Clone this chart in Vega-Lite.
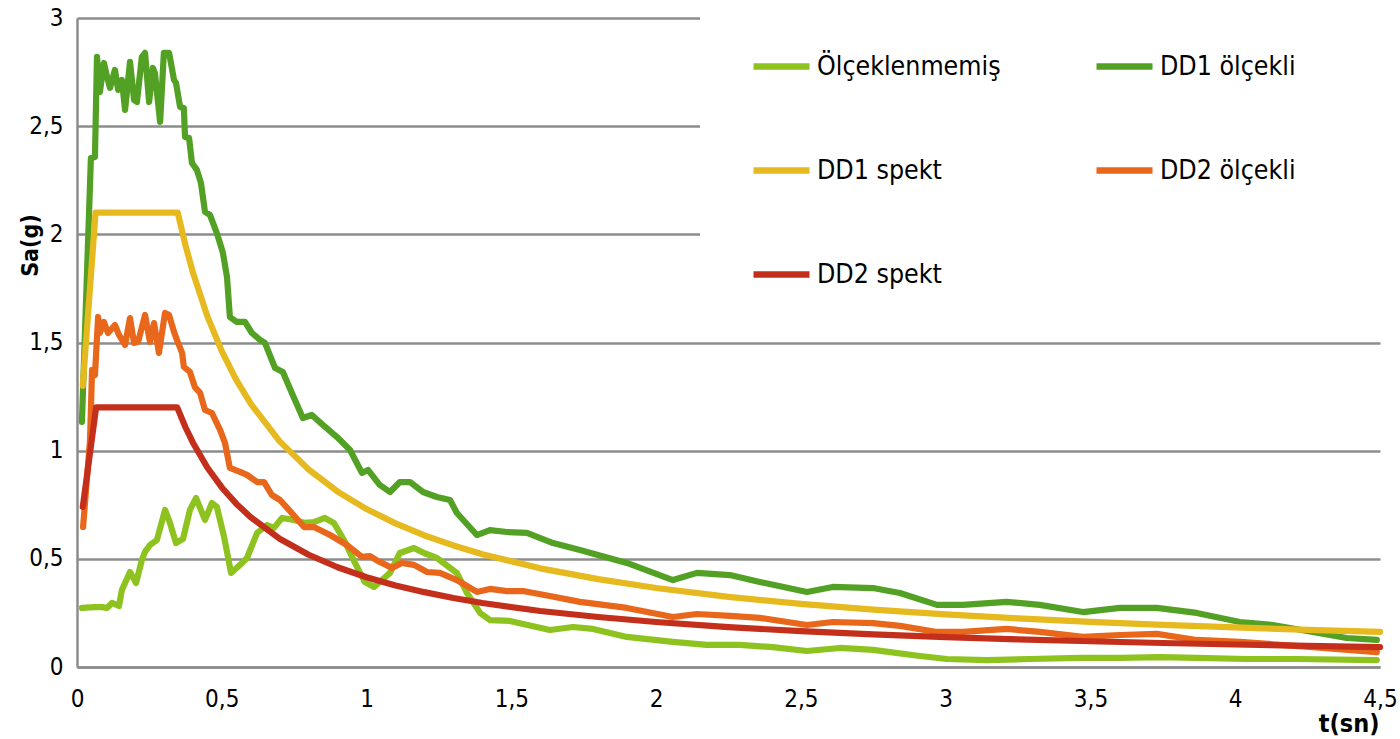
{
  "$schema": "https://vega.github.io/schema/vega-lite/v6.json",
  "autosize": {"type": "none"},
  "padding": {"left": 77, "top": 18, "right": 20, "bottom": 72},
  "width": 1303,
  "height": 649,
  "background": "white",
  "config": {
    "view": {"stroke": null},
    "font": "DejaVu Sans Condensed, DejaVu Sans, sans-serif"
  },
  "datasets": {
    "main": [
      {"s": "Ölçeklenmemiş", "t": 0.017, "sa": 0.273},
      {"s": "Ölçeklenmemiş", "t": 0.059, "sa": 0.277},
      {"s": "Ölçeklenmemiş", "t": 0.086, "sa": 0.277},
      {"s": "Ölçeklenmemiş", "t": 0.104, "sa": 0.273},
      {"s": "Ölçeklenmemiş", "t": 0.121, "sa": 0.296},
      {"s": "Ölçeklenmemiş", "t": 0.145, "sa": 0.282},
      {"s": "Ölçeklenmemiş", "t": 0.155, "sa": 0.356},
      {"s": "Ölçeklenmemiş", "t": 0.183, "sa": 0.439},
      {"s": "Ölçeklenmemiş", "t": 0.204, "sa": 0.388},
      {"s": "Ölçeklenmemiş", "t": 0.224, "sa": 0.495},
      {"s": "Ölçeklenmemiş", "t": 0.235, "sa": 0.532},
      {"s": "Ölçeklenmemiş", "t": 0.252, "sa": 0.564},
      {"s": "Ölçeklenmemiş", "t": 0.276, "sa": 0.587},
      {"s": "Ölçeklenmemiş", "t": 0.304, "sa": 0.726},
      {"s": "Ölçeklenmemiş", "t": 0.321, "sa": 0.666},
      {"s": "Ölçeklenmemiş", "t": 0.342, "sa": 0.573},
      {"s": "Ölçeklenmemiş", "t": 0.366, "sa": 0.592},
      {"s": "Ölçeklenmemiş", "t": 0.390, "sa": 0.726},
      {"s": "Ölçeklenmemiş", "t": 0.411, "sa": 0.781},
      {"s": "Ölçeklenmemiş", "t": 0.442, "sa": 0.680},
      {"s": "Ölçeklenmemiş", "t": 0.466, "sa": 0.758},
      {"s": "Ölçeklenmemiş", "t": 0.483, "sa": 0.740},
      {"s": "Ölçeklenmemiş", "t": 0.508, "sa": 0.601},
      {"s": "Ölçeklenmemiş", "t": 0.532, "sa": 0.435},
      {"s": "Ölçeklenmemiş", "t": 0.563, "sa": 0.472},
      {"s": "Ölçeklenmemiş", "t": 0.587, "sa": 0.504},
      {"s": "Ölçeklenmemiş", "t": 0.622, "sa": 0.620},
      {"s": "Ölçeklenmemiş", "t": 0.656, "sa": 0.656},
      {"s": "Ölçeklenmemiş", "t": 0.680, "sa": 0.643},
      {"s": "Ölçeklenmemiş", "t": 0.708, "sa": 0.689},
      {"s": "Ölçeklenmemiş", "t": 0.749, "sa": 0.680},
      {"s": "Ölçeklenmemiş", "t": 0.787, "sa": 0.666},
      {"s": "Ölçeklenmemiş", "t": 0.818, "sa": 0.670},
      {"s": "Ölçeklenmemiş", "t": 0.856, "sa": 0.689},
      {"s": "Ölçeklenmemiş", "t": 0.887, "sa": 0.666},
      {"s": "Ölçeklenmemiş", "t": 0.922, "sa": 0.587},
      {"s": "Ölçeklenmemiş", "t": 0.960, "sa": 0.481},
      {"s": "Ölçeklenmemiş", "t": 0.994, "sa": 0.393},
      {"s": "Ölçeklenmemiş", "t": 1.026, "sa": 0.370},
      {"s": "Ölçeklenmemiş", "t": 1.053, "sa": 0.402},
      {"s": "Ölçeklenmemiş", "t": 1.081, "sa": 0.435},
      {"s": "Ölçeklenmemiş", "t": 1.115, "sa": 0.527},
      {"s": "Ölçeklenmemiş", "t": 1.164, "sa": 0.550},
      {"s": "Ölçeklenmemiş", "t": 1.198, "sa": 0.527},
      {"s": "Ölçeklenmemiş", "t": 1.243, "sa": 0.504},
      {"s": "Ölçeklenmemiş", "t": 1.312, "sa": 0.435},
      {"s": "Ölçeklenmemiş", "t": 1.347, "sa": 0.342},
      {"s": "Ölçeklenmemiş", "t": 1.392, "sa": 0.250},
      {"s": "Ölçeklenmemiş", "t": 1.426, "sa": 0.217},
      {"s": "Ölçeklenmemiş", "t": 1.495, "sa": 0.213},
      {"s": "Ölçeklenmemiş", "t": 1.633, "sa": 0.171},
      {"s": "Ölçeklenmemiş", "t": 1.713, "sa": 0.185},
      {"s": "Ölçeklenmemiş", "t": 1.782, "sa": 0.176},
      {"s": "Ölçeklenmemiş", "t": 1.899, "sa": 0.139},
      {"s": "Ölçeklenmemiş", "t": 2.058, "sa": 0.116},
      {"s": "Ölçeklenmemiş", "t": 2.175, "sa": 0.102},
      {"s": "Ölçeklenmemiş", "t": 2.289, "sa": 0.102},
      {"s": "Ölçeklenmemiş", "t": 2.403, "sa": 0.092},
      {"s": "Ölçeklenmemiş", "t": 2.521, "sa": 0.074},
      {"s": "Ölçeklenmemiş", "t": 2.635, "sa": 0.088},
      {"s": "Ölçeklenmemiş", "t": 2.749, "sa": 0.079},
      {"s": "Ölçeklenmemiş", "t": 2.911, "sa": 0.051},
      {"s": "Ölçeklenmemiş", "t": 3.004, "sa": 0.037},
      {"s": "Ölçeklenmemiş", "t": 3.142, "sa": 0.032},
      {"s": "Ölçeklenmemiş", "t": 3.291, "sa": 0.037},
      {"s": "Ölçeklenmemiş", "t": 3.463, "sa": 0.042},
      {"s": "Ölçeklenmemiş", "t": 3.602, "sa": 0.042},
      {"s": "Ölçeklenmemiş", "t": 3.740, "sa": 0.046},
      {"s": "Ölçeklenmemiş", "t": 3.867, "sa": 0.042},
      {"s": "Ölçeklenmemiş", "t": 4.040, "sa": 0.037},
      {"s": "Ölçeklenmemiş", "t": 4.213, "sa": 0.037},
      {"s": "Ölçeklenmemiş", "t": 4.489, "sa": 0.032},

      {"s": "DD1 ölçekli", "t": 0.017, "sa": 1.133},
      {"s": "DD1 ölçekli", "t": 0.048, "sa": 2.353},
      {"s": "DD1 ölçekli", "t": 0.062, "sa": 2.358},
      {"s": "DD1 ölçekli", "t": 0.069, "sa": 2.820},
      {"s": "DD1 ölçekli", "t": 0.079, "sa": 2.658},
      {"s": "DD1 ölçekli", "t": 0.093, "sa": 2.792},
      {"s": "DD1 ölçekli", "t": 0.104, "sa": 2.728},
      {"s": "DD1 ölçekli", "t": 0.114, "sa": 2.677},
      {"s": "DD1 ölçekli", "t": 0.131, "sa": 2.760},
      {"s": "DD1 ölçekli", "t": 0.142, "sa": 2.668},
      {"s": "DD1 ölçekli", "t": 0.155, "sa": 2.714},
      {"s": "DD1 ölçekli", "t": 0.166, "sa": 2.575},
      {"s": "DD1 ölçekli", "t": 0.183, "sa": 2.797},
      {"s": "DD1 ölçekli", "t": 0.197, "sa": 2.621},
      {"s": "DD1 ölçekli", "t": 0.207, "sa": 2.612},
      {"s": "DD1 ölçekli", "t": 0.224, "sa": 2.820},
      {"s": "DD1 ölçekli", "t": 0.235, "sa": 2.839},
      {"s": "DD1 ölçekli", "t": 0.249, "sa": 2.612},
      {"s": "DD1 ölçekli", "t": 0.262, "sa": 2.769},
      {"s": "DD1 ölçekli", "t": 0.269, "sa": 2.746},
      {"s": "DD1 ölçekli", "t": 0.287, "sa": 2.520},
      {"s": "DD1 ölçekli", "t": 0.300, "sa": 2.839},
      {"s": "DD1 ölçekli", "t": 0.318, "sa": 2.839},
      {"s": "DD1 ölçekli", "t": 0.335, "sa": 2.714},
      {"s": "DD1 ölçekli", "t": 0.342, "sa": 2.700},
      {"s": "DD1 ölçekli", "t": 0.356, "sa": 2.589},
      {"s": "DD1 ölçekli", "t": 0.369, "sa": 2.584},
      {"s": "DD1 ölçekli", "t": 0.373, "sa": 2.450},
      {"s": "DD1 ölçekli", "t": 0.387, "sa": 2.446},
      {"s": "DD1 ölçekli", "t": 0.397, "sa": 2.330},
      {"s": "DD1 ölçekli", "t": 0.414, "sa": 2.298},
      {"s": "DD1 ölçekli", "t": 0.428, "sa": 2.238},
      {"s": "DD1 ölçekli", "t": 0.442, "sa": 2.104},
      {"s": "DD1 ölçekli", "t": 0.459, "sa": 2.090},
      {"s": "DD1 ölçekli", "t": 0.483, "sa": 2.006},
      {"s": "DD1 ölçekli", "t": 0.504, "sa": 1.914},
      {"s": "DD1 ölçekli", "t": 0.518, "sa": 1.803},
      {"s": "DD1 ölçekli", "t": 0.528, "sa": 1.618},
      {"s": "DD1 ölçekli", "t": 0.552, "sa": 1.595},
      {"s": "DD1 ölçekli", "t": 0.580, "sa": 1.595},
      {"s": "DD1 ölçekli", "t": 0.604, "sa": 1.544},
      {"s": "DD1 ölçekli", "t": 0.632, "sa": 1.512},
      {"s": "DD1 ölçekli", "t": 0.649, "sa": 1.498},
      {"s": "DD1 ölçekli", "t": 0.684, "sa": 1.382},
      {"s": "DD1 ölçekli", "t": 0.711, "sa": 1.364},
      {"s": "DD1 ölçekli", "t": 0.742, "sa": 1.267},
      {"s": "DD1 ölçekli", "t": 0.780, "sa": 1.151},
      {"s": "DD1 ölçekli", "t": 0.811, "sa": 1.165},
      {"s": "DD1 ölçekli", "t": 0.849, "sa": 1.119},
      {"s": "DD1 ölçekli", "t": 0.898, "sa": 1.063},
      {"s": "DD1 ölçekli", "t": 0.943, "sa": 1.003},
      {"s": "DD1 ölçekli", "t": 0.984, "sa": 0.897},
      {"s": "DD1 ölçekli", "t": 1.005, "sa": 0.911},
      {"s": "DD1 ölçekli", "t": 1.046, "sa": 0.841},
      {"s": "DD1 ölçekli", "t": 1.081, "sa": 0.809},
      {"s": "DD1 ölçekli", "t": 1.115, "sa": 0.855},
      {"s": "DD1 ölçekli", "t": 1.150, "sa": 0.855},
      {"s": "DD1 ölçekli", "t": 1.195, "sa": 0.809},
      {"s": "DD1 ölçekli", "t": 1.243, "sa": 0.786},
      {"s": "DD1 ölçekli", "t": 1.288, "sa": 0.772},
      {"s": "DD1 ölçekli", "t": 1.312, "sa": 0.712},
      {"s": "DD1 ölçekli", "t": 1.381, "sa": 0.610},
      {"s": "DD1 ölçekli", "t": 1.426, "sa": 0.633},
      {"s": "DD1 ölçekli", "t": 1.485, "sa": 0.624},
      {"s": "DD1 ölçekli", "t": 1.554, "sa": 0.620},
      {"s": "DD1 ölçekli", "t": 1.644, "sa": 0.573},
      {"s": "DD1 ölçekli", "t": 1.737, "sa": 0.541},
      {"s": "DD1 ölçekli", "t": 1.899, "sa": 0.481},
      {"s": "DD1 ölçekli", "t": 2.058, "sa": 0.402},
      {"s": "DD1 ölçekli", "t": 2.141, "sa": 0.435},
      {"s": "DD1 ölçekli", "t": 2.255, "sa": 0.425},
      {"s": "DD1 ölçekli", "t": 2.358, "sa": 0.393},
      {"s": "DD1 ölçekli", "t": 2.521, "sa": 0.347},
      {"s": "DD1 ölçekli", "t": 2.610, "sa": 0.370},
      {"s": "DD1 ölçekli", "t": 2.749, "sa": 0.365},
      {"s": "DD1 ölçekli", "t": 2.842, "sa": 0.342},
      {"s": "DD1 ölçekli", "t": 2.970, "sa": 0.287},
      {"s": "DD1 ölçekli", "t": 3.059, "sa": 0.287},
      {"s": "DD1 ölçekli", "t": 3.211, "sa": 0.301},
      {"s": "DD1 ölçekli", "t": 3.325, "sa": 0.287},
      {"s": "DD1 ölçekli", "t": 3.474, "sa": 0.254},
      {"s": "DD1 ölçekli", "t": 3.602, "sa": 0.273},
      {"s": "DD1 ölçekli", "t": 3.729, "sa": 0.273},
      {"s": "DD1 ölçekli", "t": 3.867, "sa": 0.250},
      {"s": "DD1 ölçekli", "t": 4.016, "sa": 0.208},
      {"s": "DD1 ölçekli", "t": 4.130, "sa": 0.194},
      {"s": "DD1 ölçekli", "t": 4.268, "sa": 0.162},
      {"s": "DD1 ölçekli", "t": 4.385, "sa": 0.134},
      {"s": "DD1 ölçekli", "t": 4.489, "sa": 0.125},

      {"s": "DD1 spekt", "t": 0.02, "sa": 1.30},
      {"s": "DD1 spekt", "t": 0.064, "sa": 2.10},
      {"s": "DD1 spekt", "t": 0.348, "sa": 2.10},
      {"s": "DD1 spekt", "t": 0.375, "sa": 1.947},
      {"s": "DD1 spekt", "t": 0.40, "sa": 1.825},
      {"s": "DD1 spekt", "t": 0.45, "sa": 1.622},
      {"s": "DD1 spekt", "t": 0.50, "sa": 1.460},
      {"s": "DD1 spekt", "t": 0.55, "sa": 1.327},
      {"s": "DD1 spekt", "t": 0.60, "sa": 1.217},
      {"s": "DD1 spekt", "t": 0.70, "sa": 1.043},
      {"s": "DD1 spekt", "t": 0.80, "sa": 0.913},
      {"s": "DD1 spekt", "t": 0.90, "sa": 0.811},
      {"s": "DD1 spekt", "t": 1.00, "sa": 0.730},
      {"s": "DD1 spekt", "t": 1.10, "sa": 0.664},
      {"s": "DD1 spekt", "t": 1.20, "sa": 0.608},
      {"s": "DD1 spekt", "t": 1.30, "sa": 0.562},
      {"s": "DD1 spekt", "t": 1.40, "sa": 0.521},
      {"s": "DD1 spekt", "t": 1.60, "sa": 0.456},
      {"s": "DD1 spekt", "t": 1.80, "sa": 0.406},
      {"s": "DD1 spekt", "t": 2.00, "sa": 0.365},
      {"s": "DD1 spekt", "t": 2.25, "sa": 0.324},
      {"s": "DD1 spekt", "t": 2.50, "sa": 0.292},
      {"s": "DD1 spekt", "t": 2.75, "sa": 0.265},
      {"s": "DD1 spekt", "t": 3.00, "sa": 0.243},
      {"s": "DD1 spekt", "t": 3.25, "sa": 0.225},
      {"s": "DD1 spekt", "t": 3.50, "sa": 0.209},
      {"s": "DD1 spekt", "t": 3.75, "sa": 0.195},
      {"s": "DD1 spekt", "t": 4.00, "sa": 0.183},
      {"s": "DD1 spekt", "t": 4.25, "sa": 0.172},
      {"s": "DD1 spekt", "t": 4.50, "sa": 0.162},

      {"s": "DD2 ölçekli", "t": 0.021, "sa": 0.647},
      {"s": "DD2 ölçekli", "t": 0.045, "sa": 1.049},
      {"s": "DD2 ölçekli", "t": 0.052, "sa": 1.373},
      {"s": "DD2 ölçekli", "t": 0.062, "sa": 1.350},
      {"s": "DD2 ölçekli", "t": 0.073, "sa": 1.618},
      {"s": "DD2 ölçekli", "t": 0.079, "sa": 1.544},
      {"s": "DD2 ölçekli", "t": 0.093, "sa": 1.595},
      {"s": "DD2 ölçekli", "t": 0.107, "sa": 1.544},
      {"s": "DD2 ölçekli", "t": 0.131, "sa": 1.581},
      {"s": "DD2 ölçekli", "t": 0.145, "sa": 1.535},
      {"s": "DD2 ölçekli", "t": 0.166, "sa": 1.489},
      {"s": "DD2 ölçekli", "t": 0.183, "sa": 1.613},
      {"s": "DD2 ölçekli", "t": 0.197, "sa": 1.498},
      {"s": "DD2 ölçekli", "t": 0.211, "sa": 1.503},
      {"s": "DD2 ölçekli", "t": 0.235, "sa": 1.627},
      {"s": "DD2 ölçekli", "t": 0.252, "sa": 1.503},
      {"s": "DD2 ölçekli", "t": 0.266, "sa": 1.590},
      {"s": "DD2 ölçekli", "t": 0.283, "sa": 1.452},
      {"s": "DD2 ölçekli", "t": 0.304, "sa": 1.637},
      {"s": "DD2 ölçekli", "t": 0.318, "sa": 1.627},
      {"s": "DD2 ölçekli", "t": 0.335, "sa": 1.549},
      {"s": "DD2 ölçekli", "t": 0.345, "sa": 1.512},
      {"s": "DD2 ölçekli", "t": 0.363, "sa": 1.452},
      {"s": "DD2 ölçekli", "t": 0.369, "sa": 1.387},
      {"s": "DD2 ölçekli", "t": 0.390, "sa": 1.364},
      {"s": "DD2 ölçekli", "t": 0.407, "sa": 1.294},
      {"s": "DD2 ölçekli", "t": 0.425, "sa": 1.267},
      {"s": "DD2 ölçekli", "t": 0.442, "sa": 1.188},
      {"s": "DD2 ölçekli", "t": 0.466, "sa": 1.174},
      {"s": "DD2 ölçekli", "t": 0.494, "sa": 1.096},
      {"s": "DD2 ölçekli", "t": 0.511, "sa": 1.036},
      {"s": "DD2 ölçekli", "t": 0.528, "sa": 0.920},
      {"s": "DD2 ölçekli", "t": 0.563, "sa": 0.902},
      {"s": "DD2 ölçekli", "t": 0.587, "sa": 0.888},
      {"s": "DD2 ölçekli", "t": 0.622, "sa": 0.855},
      {"s": "DD2 ölçekli", "t": 0.646, "sa": 0.855},
      {"s": "DD2 ölçekli", "t": 0.673, "sa": 0.795},
      {"s": "DD2 ölçekli", "t": 0.701, "sa": 0.772},
      {"s": "DD2 ölçekli", "t": 0.732, "sa": 0.726},
      {"s": "DD2 ölçekli", "t": 0.784, "sa": 0.647},
      {"s": "DD2 ölçekli", "t": 0.818, "sa": 0.647},
      {"s": "DD2 ölçekli", "t": 0.874, "sa": 0.610},
      {"s": "DD2 ölçekli", "t": 0.932, "sa": 0.564},
      {"s": "DD2 ölçekli", "t": 0.984, "sa": 0.509},
      {"s": "DD2 ölçekli", "t": 1.012, "sa": 0.513},
      {"s": "DD2 ölçekli", "t": 1.046, "sa": 0.485},
      {"s": "DD2 ölçekli", "t": 1.088, "sa": 0.458},
      {"s": "DD2 ölçekli", "t": 1.122, "sa": 0.481},
      {"s": "DD2 ölçekli", "t": 1.164, "sa": 0.472},
      {"s": "DD2 ölçekli", "t": 1.209, "sa": 0.439},
      {"s": "DD2 ölçekli", "t": 1.253, "sa": 0.435},
      {"s": "DD2 ölçekli", "t": 1.312, "sa": 0.402},
      {"s": "DD2 ölçekli", "t": 1.381, "sa": 0.347},
      {"s": "DD2 ölçekli", "t": 1.426, "sa": 0.361},
      {"s": "DD2 ölçekli", "t": 1.485, "sa": 0.351},
      {"s": "DD2 ölçekli", "t": 1.540, "sa": 0.351},
      {"s": "DD2 ölçekli", "t": 1.633, "sa": 0.328},
      {"s": "DD2 ölçekli", "t": 1.737, "sa": 0.301},
      {"s": "DD2 ölçekli", "t": 1.899, "sa": 0.273},
      {"s": "DD2 ölçekli", "t": 2.058, "sa": 0.231},
      {"s": "DD2 ölçekli", "t": 2.141, "sa": 0.245},
      {"s": "DD2 ölçekli", "t": 2.255, "sa": 0.236},
      {"s": "DD2 ölçekli", "t": 2.358, "sa": 0.227},
      {"s": "DD2 ölçekli", "t": 2.521, "sa": 0.194},
      {"s": "DD2 ölçekli", "t": 2.610, "sa": 0.208},
      {"s": "DD2 ölçekli", "t": 2.749, "sa": 0.203},
      {"s": "DD2 ölçekli", "t": 2.842, "sa": 0.190},
      {"s": "DD2 ölçekli", "t": 2.970, "sa": 0.162},
      {"s": "DD2 ölçekli", "t": 3.059, "sa": 0.162},
      {"s": "DD2 ölçekli", "t": 3.211, "sa": 0.176},
      {"s": "DD2 ölçekli", "t": 3.325, "sa": 0.162},
      {"s": "DD2 ölçekli", "t": 3.474, "sa": 0.139},
      {"s": "DD2 ölçekli", "t": 3.602, "sa": 0.148},
      {"s": "DD2 ölçekli", "t": 3.729, "sa": 0.153},
      {"s": "DD2 ölçekli", "t": 3.867, "sa": 0.125},
      {"s": "DD2 ölçekli", "t": 4.016, "sa": 0.116},
      {"s": "DD2 ölçekli", "t": 4.268, "sa": 0.092},
      {"s": "DD2 ölçekli", "t": 4.489, "sa": 0.069},

      {"s": "DD2 spekt", "t": 0.02, "sa": 0.74},
      {"s": "DD2 spekt", "t": 0.066, "sa": 1.20},
      {"s": "DD2 spekt", "t": 0.346, "sa": 1.20},
      {"s": "DD2 spekt", "t": 0.375, "sa": 1.107},
      {"s": "DD2 spekt", "t": 0.40, "sa": 1.038},
      {"s": "DD2 spekt", "t": 0.45, "sa": 0.922},
      {"s": "DD2 spekt", "t": 0.50, "sa": 0.830},
      {"s": "DD2 spekt", "t": 0.55, "sa": 0.755},
      {"s": "DD2 spekt", "t": 0.60, "sa": 0.692},
      {"s": "DD2 spekt", "t": 0.70, "sa": 0.593},
      {"s": "DD2 spekt", "t": 0.80, "sa": 0.519},
      {"s": "DD2 spekt", "t": 0.90, "sa": 0.461},
      {"s": "DD2 spekt", "t": 1.00, "sa": 0.415},
      {"s": "DD2 spekt", "t": 1.10, "sa": 0.377},
      {"s": "DD2 spekt", "t": 1.20, "sa": 0.346},
      {"s": "DD2 spekt", "t": 1.30, "sa": 0.319},
      {"s": "DD2 spekt", "t": 1.40, "sa": 0.296},
      {"s": "DD2 spekt", "t": 1.60, "sa": 0.259},
      {"s": "DD2 spekt", "t": 1.80, "sa": 0.231},
      {"s": "DD2 spekt", "t": 2.00, "sa": 0.208},
      {"s": "DD2 spekt", "t": 2.25, "sa": 0.184},
      {"s": "DD2 spekt", "t": 2.50, "sa": 0.166},
      {"s": "DD2 spekt", "t": 2.75, "sa": 0.151},
      {"s": "DD2 spekt", "t": 3.00, "sa": 0.138},
      {"s": "DD2 spekt", "t": 3.25, "sa": 0.128},
      {"s": "DD2 spekt", "t": 3.50, "sa": 0.119},
      {"s": "DD2 spekt", "t": 3.75, "sa": 0.111},
      {"s": "DD2 spekt", "t": 4.00, "sa": 0.104},
      {"s": "DD2 spekt", "t": 4.25, "sa": 0.098},
      {"s": "DD2 spekt", "t": 4.50, "sa": 0.092}
    ]
  },
  "data": {"name": "main"},
  "mark": {"type": "line", "strokeWidth": 6.2, "strokeJoin": "round", "strokeCap": "round"},
  "encoding": {
    "x": {
      "field": "t", "type": "quantitative",
      "scale": {"domain": [0, 4.5], "nice": false, "zero": false},
      "axis": {
        "values": [0, 0.5, 1, 1.5, 2, 2.5, 3, 3.5, 4, 4.5],
        "labelExpr": "replace(format(datum.value, '~g'), '.', ',')",
        "grid": false, "ticks": false,
        "domainColor": "#8c8c8c", "domainWidth": 2.5,
        "labelFontSize": 24, "labelColor": "black", "labelPadding": 20,
        "labelFlush": false, "labelOverlap": false,
        "title": "t(sn)", "titleFontSize": 25, "titleFontWeight": "bold", "titleColor": "black",
        "titleAnchor": null, "titleAlign": "right", "titleX": 1302, "titleY": 56, "titleBaseline": "middle"
      }
    },
    "y": {
      "field": "sa", "type": "quantitative",
      "scale": {"domain": [0, 3], "nice": false},
      "axis": {
        "values": [0, 0.5, 1, 1.5, 2, 2.5, 3],
        "labelExpr": "replace(format(datum.value, '~g'), '.', ',')",
        "grid": true, "gridColor": "#8c8c8c", "gridWidth": 2.5,
        "ticks": false,
        "domainColor": "#8c8c8c", "domainWidth": 2.5,
        "labelFontSize": 24, "labelColor": "black", "labelPadding": 14,
        "labelFlush": false, "labelOverlap": false,
        "title": "Sa(g)", "titleFontSize": 23, "titleFontWeight": "bold", "titleColor": "black",
        "titleAnchor": null, "titleX": -47, "titleY": 227, "titleAlign": "center", "titleBaseline": "middle", "titleAngle": 270
      }
    },
    "color": {
      "field": "s", "type": "nominal",
      "scale": {
        "domain": ["Ölçeklenmemiş", "DD1 ölçekli", "DD1 spekt", "DD2 ölçekli", "DD2 spekt"],
        "range": ["#8dc21f", "#53a124", "#e6b91e", "#e8671a", "#c42f1c"]
      },
      "legend": {
        "title": "MM",
        "titleColor": "white",
        "titleOrient": "right",
        "titleFontSize": 22,
        "titlePadding": 8,
        "orient": "none",
        "legendX": 623,
        "legendY": -33,
        "columns": 2,
        "direction": "horizontal",
        "gridAlign": "all",
        "columnPadding": 82,
        "rowPadding": 59,
        "padding": 50,
        "fillColor": "white",
        "symbolType": "stroke",
        "symbolSize": 3136,
        "symbolStrokeWidth": 6.5,
        "labelFontSize": 26.5,
        "labelColor": "black",
        "labelOffset": 4,
        "labelLimit": 400
      }
    }
  }
}
